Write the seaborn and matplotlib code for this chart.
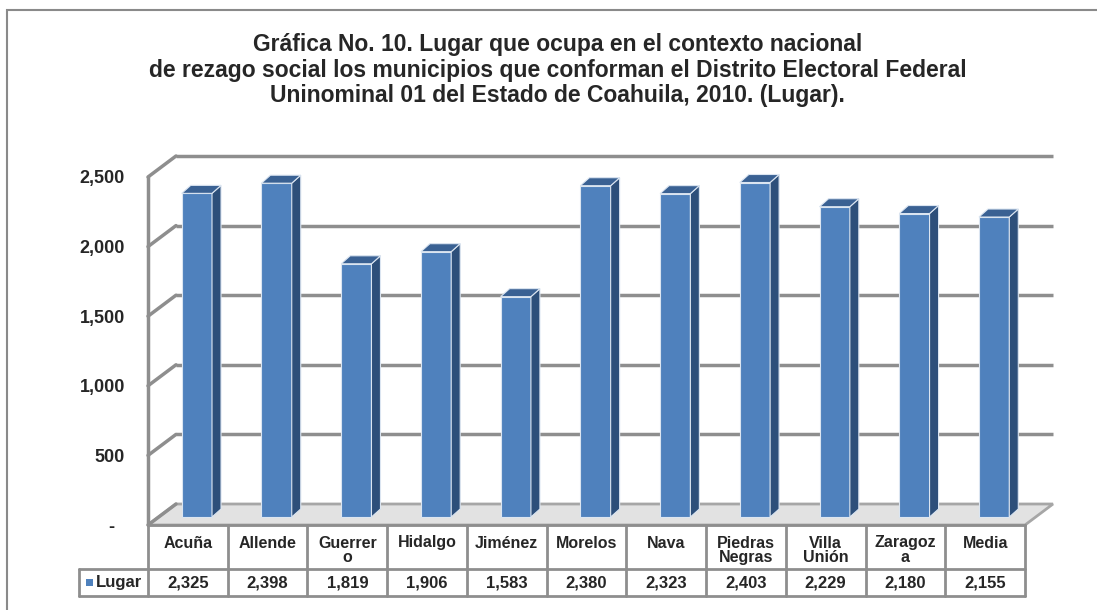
import numpy as np
import pandas as pd
import matplotlib
matplotlib.use("Agg")
import matplotlib.pyplot as plt
from matplotlib.patches import Polygon, Rectangle
import seaborn as sns

sns.set_theme(style="white")
plt.rcParams['font.family'] = ['Liberation Sans', 'DejaVu Sans']

# Datos
municipios = ['Acuña', 'Allende', 'Guerrero', 'Hidalgo', 'Jiménez', 'Morelos',
              'Nava', 'Piedras Negras', 'Villa Unión', 'Zaragoza', 'Media']
etiquetas = ['Acuña', 'Allende', 'Guerrer\no', 'Hidalgo', 'Jiménez', 'Morelos',
             'Nava', 'Piedras\nNegras', 'Villa\nUnión', 'Zaragoz\na', 'Media']
lugar = [2325, 2398, 1819, 1906, 1583, 2380, 2323, 2403, 2229, 2180, 2155]
ticks_y = [0, 500, 1000, 1500, 2000, 2500]

titulo = ('Gráfica No. 10. Lugar que ocupa en el contexto nacional\n'
          'de rezago social los municipios que conforman el Distrito Electoral Federal\n'
          'Uninominal 01 del Estado de Coahuila, 2010. (Lugar).')

df = pd.DataFrame({'Municipio': municipios, 'Lugar': lugar})

# Colores
azul = '#4f81bd'
azul_lado = '#2d4f7a'
azul_tapa = '#3a6193'
gris = '#8e8e8e'
borde_barra = '#dbe5f1'

W, H = 1097, 610
fig = plt.figure(figsize=(W / 100, H / 100), dpi=100)

# marco exterior
fig.add_artist(Rectangle((7 / W, -0.1), 1.2, 1 - 10 / H + 0.1,
                         transform=fig.transFigure, fill=False,
                         edgecolor='#8a8a8a', lw=1.5))

L, R, T, B = 148, 1025, 177, 525
ax = fig.add_axes([L / W, 1 - B / H, (R - L) / W, (B - T) / H])
n = len(municipios)
ax.set_xlim(-0.5, n - 0.5)
ax.set_ylim(0, 2500)
px = n / (R - L)
py = 2500 / (B - T)
bx, by = 28 * px, 21 * py

sns.barplot(data=df, x='Municipio', y='Lugar', color=azul, width=0.38,
            saturation=1, ax=ax, zorder=5)

for s in ax.spines.values():
    s.set_visible(False)
ax.set_xlabel('')
ax.set_ylabel('')
ax.set_xticks([])
ax.set_yticks(ticks_y)
ax.set_yticklabels([f'{v:,}' if v else '-  ' for v in ticks_y],
                   fontsize=13, fontweight='bold')
ax.tick_params(axis='y', length=0, pad=16.5)
ax.grid(False)
ax.patch.set_alpha(0)

# piso
ax.add_patch(Polygon([(-0.5, 0), (n - 0.5, 0), (n - 0.5 + bx, by), (-0.5 + bx, by)],
                     closed=True, facecolor='#e2e2e2', edgecolor='#a6a6a6',
                     lw=2, zorder=1, clip_on=False))

# pared del fondo y pared izquierda
for v in ticks_y:
    if v > 0:
        ax.plot([-0.5 + bx, n - 0.5 + bx], [v + by, v + by], color=gris,
                lw=2.5, zorder=2, clip_on=False, solid_capstyle='butt')
    ax.plot([-0.5, -0.5 + bx], [v, v + by], color=gris, lw=2.5,
            zorder=2, clip_on=False)
ax.plot([-0.5, -0.5], [0, 2500], color=gris, lw=2.5, zorder=2, clip_on=False)

# barras 3D: desplazar y agregar caras
dx, dy = 9 * px, 8 * py
for p in list(ax.patches):
    if type(p) is not Rectangle:
        continue
    p.set_x(p.get_x() + 9 * px)
    p.set_y(8 * py)
    p.set_edgecolor(borde_barra)
    p.set_linewidth(0.8)
    p.set_clip_on(False)
    x0, x1 = p.get_x(), p.get_x() + p.get_width()
    y0, y1 = p.get_y(), p.get_y() + p.get_height()
    ax.add_patch(Polygon([(x1, y0), (x1 + dx, y0 + dy), (x1 + dx, y1 + dy), (x1, y1)],
                         closed=True, facecolor=azul_lado, edgecolor=borde_barra,
                         lw=0.8, zorder=5, clip_on=False))
    ax.add_patch(Polygon([(x0, y1), (x1, y1), (x1 + dx, y1 + dy), (x0 + dx, y1 + dy)],
                         closed=True, facecolor=azul_tapa, edgecolor=borde_barra,
                         lw=0.8, zorder=5, clip_on=False))

# tabla de datos
y_h = -44 * py
y_v = -71 * py
x_leg = -0.5 - 69 * px
lin = dict(color=gris, lw=2, clip_on=False, zorder=3)
ax.plot([-0.5, n - 0.5], [0, 0], **lin)
ax.plot([x_leg, n - 0.5], [y_h, y_h], **lin)
ax.plot([x_leg, n - 0.5], [y_v, y_v], **lin)
ax.plot([x_leg, x_leg], [y_h, y_v], **lin)
for i in range(n + 1):
    ax.plot([i - 0.5, i - 0.5], [0, y_v], **lin)

for i, (et, v) in enumerate(zip(etiquetas, lugar)):
    ax.text(i, -10.5 * py, et, ha='center', va='top', fontsize=11.5,
            fontweight='bold', linespacing=0.95, clip_on=False)
    ax.text(i, -57.5 * py, f'{v:,}', ha='center', va='center', fontsize=12,
            fontweight='bold', clip_on=False)

ax.add_patch(Rectangle((x_leg + 7 * px, -60.5 * py), 7 * px, 7 * py,
                       facecolor=azul, edgecolor='none', clip_on=False))
ax.text(x_leg + 17 * px, -57.5 * py, 'Lugar', ha='left', va='center',
        fontsize=12, fontweight='bold', clip_on=False)

fig.text(0.5085, 1 - 70 / H, titulo, ha='center', va='center', fontsize=16.5,
         fontweight='bold', linespacing=1.15)

fig.savefig('out.png', dpi=100)
